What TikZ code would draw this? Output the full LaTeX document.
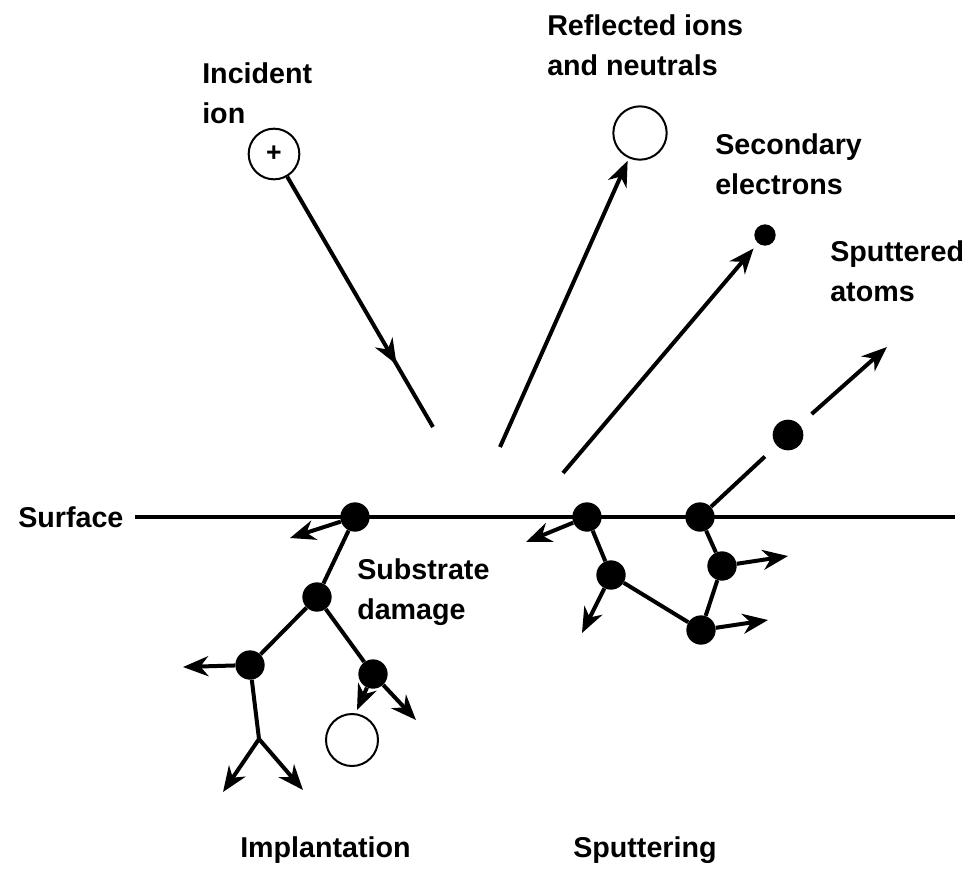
\documentclass[tikz,border=0pt]{standalone}
\usepackage{fontspec}
\setmainfont{Liberation Sans}
\usetikzlibrary{arrows.meta,decorations.markings}
\begin{document}
\begin{tikzpicture}[x=0.75pt,y=-0.75pt,
  every node/.style={inner sep=0pt},
  lbl/.style={anchor=north west,align=left,font=\fontsize{21.5}{30}\selectfont\bfseries},
  atom/.style={circle,fill=black,minimum size=22pt},
  hollow/.style={circle,draw=black,line width=1.5pt,fill=white,minimum size=39pt},
  ln/.style={line width=3pt},
  arr/.style={line width=3pt,-{Stealth[length=19pt,width=15pt,inset=6pt]}}]
\useasboundingbox (0,0) rectangle (973,872);
% labels
\node[lbl] (tinc) at (202,62) {Incident\\ion};
\node[lbl] (tref) at (547,14) {Reflected ions\\and neutrals};
\node[lbl] (tsec) at (715,133) {Secondary\\electrons};
\node[lbl] (tspu) at (830,240) {Sputtered\\atoms};
\node[lbl] (tsub) at (357,558) {Substrate\\damage};
\node[lbl,anchor=west] (tsur) at (18,517) {Surface};
\node[lbl] (timp) at (240,836) {Implantation};
\node[lbl] (tspt) at (573,836) {Sputtering};
% surface line
\coordinate (sl) at (135,517);
\coordinate (sr) at (955,517);
\draw[line width=3pt] (sl) -- (sr);
% incident ion
\node[hollow,minimum size=38pt] (ion) at (274,154) {\fontsize{20}{20}\selectfont\bfseries +};
\coordinate (iend) at (433,427);
\draw[ln,decoration={markings,mark=at position 0.75 with {\arrow{Stealth[length=19pt,width=15pt,inset=6pt]}}},postaction={decorate}] (ion) -- (iend);
% reflected
\node[hollow,minimum size=40pt] (refl) at (640,133) {};
\coordinate (rst) at (500,447);
\draw[arr,shorten >=2pt] (rst) -- (refl);
% secondary electron
\node[atom,minimum size=16pt] (el) at (765,235) {};
\coordinate (est) at (563,473);
\draw[arr,shorten >=5pt] (est) -- (el);
% implantation tree
\node[atom] (A) at (355,517) {};
\node[atom] (B) at (317,597) {};
\node[atom] (C) at (250,665) {};
\node[atom] (D) at (373,674) {};
\node[hollow] (imp) at (352,740) {};
\coordinate (J) at (259,739);
\coordinate (a1) at (290,538);
\coordinate (c1) at (183,667);
\coordinate (j1) at (223,792);
\coordinate (j2) at (303,790);
\coordinate (d1) at (357,710);
\coordinate (d2) at (416,720);
\draw[ln] (A) -- (B) (B) -- (C) (B) -- (D) (C) -- (J);
\draw[arr] (A) -- (a1);
\draw[arr] (C) -- (c1);
\draw[arr] (J) -- (j1);
\draw[arr] (J) -- (j2);
\draw[arr] (D) -- (d1);
\draw[arr] (D) -- (d2);
% sputtering cluster
\node[atom] (E) at (587,517) {};
\node[atom] (F) at (611,575) {};
\node[atom] (G) at (701,630) {};
\node[atom] (H) at (722,566) {};
\node[atom] (I) at (700,517) {};
\node[atom,minimum size=23pt] (S) at (788,435) {};
\coordinate (e1) at (526,542);
\coordinate (f1) at (582,633);
\coordinate (h1) at (788,556);
\coordinate (g1) at (768,620);
\coordinate (stip) at (887,347);
\draw[ln] (E) -- (F) (F) -- (G) (G) -- (H) (H) -- (I);
\draw[arr] (E) -- (e1);
\draw[arr] (F) -- (f1);
\draw[arr] (H) -- (h1);
\draw[arr] (G) -- (g1);
\draw[ln,shorten >=12pt] (I) -- (S);
\draw[arr,shorten <=12pt] (S) -- (stip);
\end{tikzpicture}
\end{document}
